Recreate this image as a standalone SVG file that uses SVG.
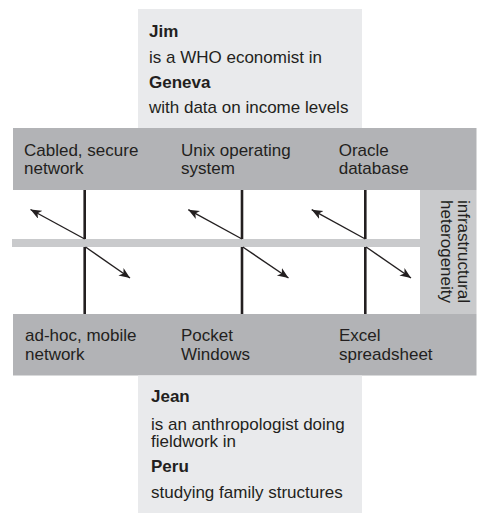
<svg xmlns="http://www.w3.org/2000/svg" width="477" height="513" viewBox="0 0 477 513">
<style>
text{font-family:"Liberation Sans",Arial,Helvetica,sans-serif;font-size:17px;fill:#231f20}
.b{font-weight:bold}
.light{fill:#e9eaec}
.band{fill:#b2b3b6}
.mid{fill:#c9cacc}
.stem{stroke:#231f20;stroke-width:2.6;fill:none}
.arr{stroke:#231f20;stroke-width:1.4;fill:none;marker-end:url(#ah)}
</style>
<defs>
<marker id="ah" markerUnits="userSpaceOnUse" markerWidth="12" markerHeight="10" refX="11" refY="4.5" orient="auto">
<path d="M0,0 L11,4.5 L0,9 L3,4.5 z" fill="#231f20"/>
</marker>
</defs>
<rect width="477" height="513" fill="#fff"/>
<g id="jim">
<rect class="light" x="138" y="9" width="224" height="119"/>
<text class="b" x="149" y="36.7">Jim</text>
<text x="149" y="62.7">is a WHO economist in</text>
<text class="b" x="149" y="88">Geneva</text>
<text x="149" y="113">with data on income levels</text>
</g>
<g id="top-band">
<rect class="band" x="13" y="128" width="463.5" height="62"/>
<text x="24" y="155.5">Cabled, secure</text>
<text x="24" y="174.3">network</text>
<text x="181" y="155.5">Unix operating</text>
<text x="181" y="174.3">system</text>
<text x="338.7" y="155.5">Oracle</text>
<text x="338.7" y="174.3">database</text>
</g>
<g id="middle-bar">
<rect class="mid" x="12" y="239" width="409" height="8"/>
</g>
<g id="heterogeneity">
<rect class="mid" x="420" y="190" width="56.5" height="124"/>
<text transform="translate(457.5,200) rotate(90)">infrastructural</text>
<text transform="translate(441,200) rotate(90)">heterogeneity</text>
</g>
<g id="bottom-band">
<rect class="band" x="13" y="314" width="463.5" height="61.5"/>
<text x="25" y="341">ad-hoc, mobile</text>
<text x="25" y="360">network</text>
<text x="181" y="341">Pocket</text>
<text x="181" y="360">Windows</text>
<text x="339" y="341">Excel</text>
<text x="339" y="360">spreadsheet</text>
</g>
<g id="jean">
<rect class="light" x="138" y="375.5" width="224" height="137.5"/>
<text class="b" x="151" y="402.3">Jean</text>
<text x="151" y="430">is an anthropologist doing</text>
<text x="151" y="447.3">fieldwork in</text>
<text class="b" x="151" y="471.7">Peru</text>
<text x="151" y="498.3">studying family structures</text>
</g>
<g id="connectors">
<line class="stem" x1="84.7" y1="190" x2="84.7" y2="239"/>
<line class="stem" x1="84.7" y1="247" x2="84.7" y2="314"/>
<line class="stem" x1="242" y1="190" x2="242" y2="239"/>
<line class="stem" x1="242" y1="247" x2="242" y2="314"/>
<line class="stem" x1="365.3" y1="190" x2="365.3" y2="239"/>
<line class="stem" x1="365.3" y1="247" x2="365.3" y2="314"/>
<line class="arr" x1="84.7" y1="239" x2="30.5" y2="209.5"/>
<line class="arr" x1="85.5" y1="247" x2="130" y2="278"/>
<line class="arr" x1="242" y1="239" x2="188.3" y2="209.7"/>
<line class="arr" x1="242.8" y1="247" x2="288.5" y2="278"/>
<line class="arr" x1="365.3" y1="239" x2="311.7" y2="209.7"/>
<line class="arr" x1="366.1" y1="247" x2="411" y2="278"/>
</g>
</svg>
